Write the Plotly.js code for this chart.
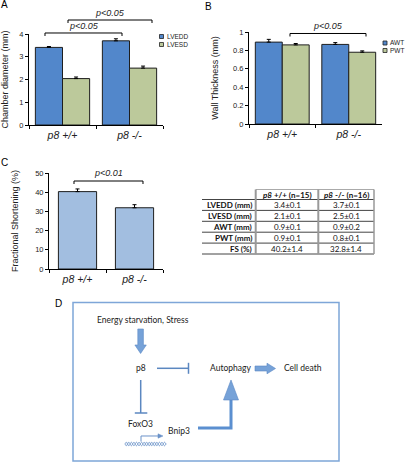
<!DOCTYPE html>
<html><head><meta charset="utf-8">
<script src="https://cdn.plot.ly/plotly-3.0.1.min.js"></script>
<style>html,body{margin:0;padding:0;background:#fff}#chart{width:408px;height:463px}</style>
</head><body><div id="chart"></div>
<script>
// ---------- data ----------
const genotypes = ["p8 +/+", "p8 -/-"];
const lvedd = [3.41, 3.70];
const lveddErr = [0.04, 0.09];
const lvesd = [2.04, 2.50];
const lvesdErr = [0.07, 0.09];
const awt = [0.89, 0.865];
const awtErr = [0.03, 0.02];
const pwt = [0.86, 0.78];
const pwtErr = [0.015, 0.015];
const fs = [40.3, 31.9];
const fsErr = [1.4, 1.6];
const seriesA = ["LVEDD", "LVESD"];
const seriesB = ["AWT", "PWT"];
const pLabelsA = ["p<0.05", "p<0.05"];
const pLabelB = "p<0.05";
const pLabelC = "p<0.01";
const tableHeader = ["p8 +/+ (n=15)", "p8 -/- (n=16)"];
const tableRows = ["LVEDD (mm)", "LVESD (mm)", "AWT (mm)", "PWT (mm)", "FS (%)"];
const tableWT = ["3.4\u00B10.1", "2.1\u00B10.1", "0.9\u00B10.1", "0.9\u00B10.1", "40.2\u00B11.4"];
const tableKO = ["3.7\u00B10.1", "2.5\u00B10.1", "0.9\u00B10.2", "0.8\u00B10.1", "32.8\u00B11.4"];
const diagramLabels = ["Energy starvation, Stress", "p8", "Autophagy", "Cell death", "FoxO3", "Bnip3"];

// ---------- helpers ----------
const W = 408, H = 463;
const X = p => p / W;
const Y = p => 1 - p / H;
const ARIAL = "Liberation Sans, Arial, sans-serif";
const CAL = "Lato, Open Sans, sans-serif";
const BLUE = "#5287cb", GREEN = "#bcc99b", LIGHTBLUE = "#a2bee0";
const OUT = "#1e1e1e";
const DBLUE = "#5b87c0";

function P(pts, close) {
  return pts.map((p, i) => (i ? "L" : "M") + X(p[0]).toFixed(5) + "," + Y(p[1]).toFixed(5)).join(" ") + (close ? " Z" : "");
}
function errY(arr) {
  return {type: "data", array: arr, arrayminus: arr.map(() => 0), symmetric: false, color: "#000", thickness: 1, width: 2};
}
function barTrace(y, err, name, color, xa, ya) {
  return {type: "bar", x: genotypes, y: y, name: name, xaxis: xa, yaxis: ya,
    marker: {color: color, line: {color: OUT, width: 1}}, error_y: errY(err), hoverinfo: "skip"};
}

const traces = [
  barTrace(lvedd, lveddErr, seriesA[0], BLUE, "x", "y"),
  barTrace(lvesd, lvesdErr, seriesA[1], GREEN, "x", "y"),
  barTrace(awt, awtErr, seriesB[0], BLUE, "x2", "y2"),
  barTrace(pwt, pwtErr, seriesB[1], GREEN, "x2", "y2"),
  Object.assign(barTrace(fs, fsErr, "FS", LIGHTBLUE, "x3", "y3"), {width: 0.67})
];

const axBase = {showline: true, linecolor: "#000", linewidth: 1, ticks: "outside", ticklen: 3,
  tickcolor: "#000", tickwidth: 1, showgrid: false, zeroline: false, fixedrange: true};
function xAx(d0, d1, anchor) {
  return Object.assign({}, axBase, {domain: [X(d0), X(d1)], anchor: anchor, type: "category",
    range: [-0.5, 1.5], tickson: "boundaries",
    tickfont: {family: ARIAL, size: 10.5, style: "italic", color: "#222"}});
}
function yAx(top, bot, anchor, range, dtick, title, standoff) {
  return Object.assign({}, axBase, {domain: [Y(bot), Y(top)], anchor: anchor, range: range, dtick: dtick,
    tickfont: {family: ARIAL, size: 7.5, color: "#222"},
    title: {text: title, font: {family: ARIAL, size: 9, color: "#222"}, standoff: standoff}});
}

const shapes = [];
const annotations = [];
function txt(text, x, y, opts) {
  annotations.push(Object.assign({text: text, x: X(x), y: Y(y), xref: "paper", yref: "paper",
    showarrow: false, xanchor: "center", yanchor: "middle", borderpad: 0,
    font: {family: ARIAL, size: 9, color: "#222"}}, opts || {}));
}
function bracket(x0, x1, y, label, ty) {
  shapes.push({type: "path", xref: "paper", yref: "paper",
    path: P([[x0, y + 3], [x0, y], [x1, y], [x1, y + 3]]), line: {color: "#000", width: 1}});
  txt(label, (x0 + x1) / 2, ty, {font: {family: ARIAL, size: 9, style: "italic", color: "#222"}});
}

// panel letters
txt("A", 4, 5, {font: {family: ARIAL, size: 10, color: "#000"}});
txt("B", 209, 7, {font: {family: ARIAL, size: 10, color: "#000"}});
txt("C", 4, 163, {font: {family: ARIAL, size: 10, color: "#000"}});
txt("D", 58, 303, {font: {family: ARIAL, size: 10, color: "#000"}});

// significance brackets
bracket(68, 152, 20, pLabelsA[0], 13);
bracket(45, 122, 33, pLabelsA[1], 26);
bracket(290, 366, 33.5, pLabelB, 26.5);
bracket(74, 143, 181, pLabelC, 173.5);

// hand legends
function legendItem(x, y, color, label) {
  shapes.push({type: "rect", xref: "paper", yref: "paper", x0: X(x), x1: X(x + 4), y0: Y(y + 2), y1: Y(y - 2),
    fillcolor: color, line: {color: "#222", width: 0.8}});
  txt(label, x + 6, y, {xanchor: "left", font: {family: ARIAL, size: 6.5, color: "#222"}});
}
legendItem(159.5, 36.5, BLUE, seriesA[0]);
legendItem(159.5, 44.5, GREEN, seriesA[1]);
legendItem(383, 43, BLUE, seriesB[0]);
legendItem(383, 50.5, GREEN, seriesB[1]);

// ---------- table ----------
const tL = 202, c1 = 255.7, c2 = 318.3, tR = 374, hTop = 189.5, hBot = 199.5, rowH = 10.9;
const tableLine = (x0, y0, x1, y1, color, w) => shapes.push({type: "line", xref: "paper", yref: "paper",
  x0: X(x0), y0: Y(y0), x1: X(x1), y1: Y(y1), line: {color: color, width: w}});
const tBottom = hBot + tableRows.length * rowH;
tableLine(c1, hTop, tR, hTop, "#aaa", 1);
for (let i = 0; i <= tableRows.length; i++) tableLine(tL, hBot + i * rowH, tR, hBot + i * rowH, "#444", 1);
tableLine(c1, hTop, c1, tBottom, "#999", 2);
tableLine(c2, hTop, c2, tBottom, "#999", 2);
tableLine(tR, hTop, tR, tBottom, "#999", 1.5);
const colCenters = [(c1 + c2) / 2, (c2 + tR) / 2];
tableHeader.forEach((h, j) => {
  const sp = h.indexOf(" ");
  txt("<b><i>" + h.slice(0, sp) + "</i>" + h.slice(sp) + "</b>", colCenters[j], (hTop + hBot) / 2 + 0.3,
    {font: {family: CAL, size: 8, color: "#111"}});
});
tableRows.forEach((r, i) => {
  const yc = hBot + (i + 0.5) * rowH + 0.3;
  txt("<b>" + r + "</b>", c1 - 2.5, yc, {xanchor: "right", font: {family: CAL, size: 8, color: "#111"}});
  txt(tableWT[i], colCenters[0], yc, {font: {family: CAL, size: 8, color: "#111"}});
  txt(tableKO[i], colCenters[1], yc, {font: {family: CAL, size: 8, color: "#111"}});
});

// ---------- diagram D ----------
const ARROWFILL = "#76a2d8", ARROWLINE = "#5a88c4";
shapes.push({type: "rect", xref: "paper", yref: "paper", x0: X(73), x1: X(339), y0: Y(461), y1: Y(302.5),
  line: {color: "#7ea6d8", width: 1.5}, fillcolor: "rgba(0,0,0,0)"});
// down block arrow
shapes.push({type: "path", xref: "paper", yref: "paper", fillcolor: ARROWFILL, line: {color: ARROWLINE, width: 0.6},
  path: P([[137.8, 329], [143.4, 329], [143.4, 345], [146.3, 345], [140.6, 353.5], [134.9, 345], [137.8, 345]], true)});
// right block arrow
shapes.push({type: "path", xref: "paper", yref: "paper", fillcolor: ARROWFILL, line: {color: ARROWLINE, width: 0.6},
  path: P([[255, 366], [267, 366], [267, 363.2], [275.5, 368.5], [267, 373.8], [267, 371], [255, 371]], true)});
// inhibition p8 -| Autophagy
tableLine(157, 368.3, 188.5, 368.3, DBLUE, 1.5);
tableLine(188.5, 362.8, 188.5, 373.8, DBLUE, 1.5);
// inhibition p8 -| FoxO3
tableLine(140.7, 380, 140.7, 413, DBLUE, 1.5);
tableLine(134.8, 413, 147.3, 413, DBLUE, 1.5);
// Bnip3 elbow arrow to Autophagy
shapes.push({type: "path", xref: "paper", yref: "paper", line: {color: "#5b8fd0", width: 3},
  path: P([[198, 428], [231, 428], [231, 399]])});
shapes.push({type: "path", xref: "paper", yref: "paper", fillcolor: ARROWFILL, line: {color: ARROWLINE, width: 0.6},
  path: P([[223.5, 400], [238.5, 400], [231, 380]], true)});
// DNA helix and transcription arrow
(function () {
  const x0 = 125, x1 = 166, yc = 444, amp = 1.8, per = 5.1;
  for (const s of [1, -1]) {
    const pts = [];
    for (let x = x0; x <= x1 + 0.01; x += 0.5) pts.push([x, yc + s * amp * Math.sin(2 * Math.PI * (x - x0) / per)]);
    shapes.push({type: "path", xref: "paper", yref: "paper", line: {color: "#6b93c9", width: 0.8}, path: P(pts)});
  }
})();
shapes.push({type: "path", xref: "paper", yref: "paper", line: {color: "#6b93c9", width: 1},
  path: P([[141, 441.5], [141, 436], [160, 436]])});
shapes.push({type: "path", xref: "paper", yref: "paper", fillcolor: "#6b93c9", line: {color: "#6b93c9", width: 0.5},
  path: P([[158, 433.8], [163, 436], [158, 438.2]], true)});
// diagram labels
const dPos = [[142.5, 319.5], [140.7, 368], [230, 368], [303, 368], [140.7, 424.3], [178.5, 430.5]];
diagramLabels.forEach((t, i) => txt(t, dPos[i][0], dPos[i][1], {font: {family: CAL, size: 8.5, color: "#222"}}));

const layout = {
  width: W, height: H, margin: {l: 0, r: 0, t: 0, b: 0},
  paper_bgcolor: "#fff", plot_bgcolor: "rgba(0,0,0,0)",
  showlegend: false, barmode: "group", bargap: 0.19, bargroupgap: 0,
  font: {family: ARIAL, color: "#222"},
  xaxis: xAx(29, 163, "y"),
  yaxis: yAx(34, 125, "x", [0, 4], 1, "Chamber diameter (mm)", 14),
  xaxis2: xAx(249, 382, "y2"),
  yaxis2: yAx(32, 124, "x2", [0, 1], 0.2, "Wall Thickness (mm)", 12),
  xaxis3: xAx(49, 163, "y3"),
  yaxis3: yAx(173, 269, "x3", [0, 50], 10, "Fractional Shortening (%)", 15),
  shapes: shapes, annotations: annotations
};
Plotly.newPlot("chart", traces, layout, {staticPlot: true, displayModeBar: false});
</script>
</body></html>
